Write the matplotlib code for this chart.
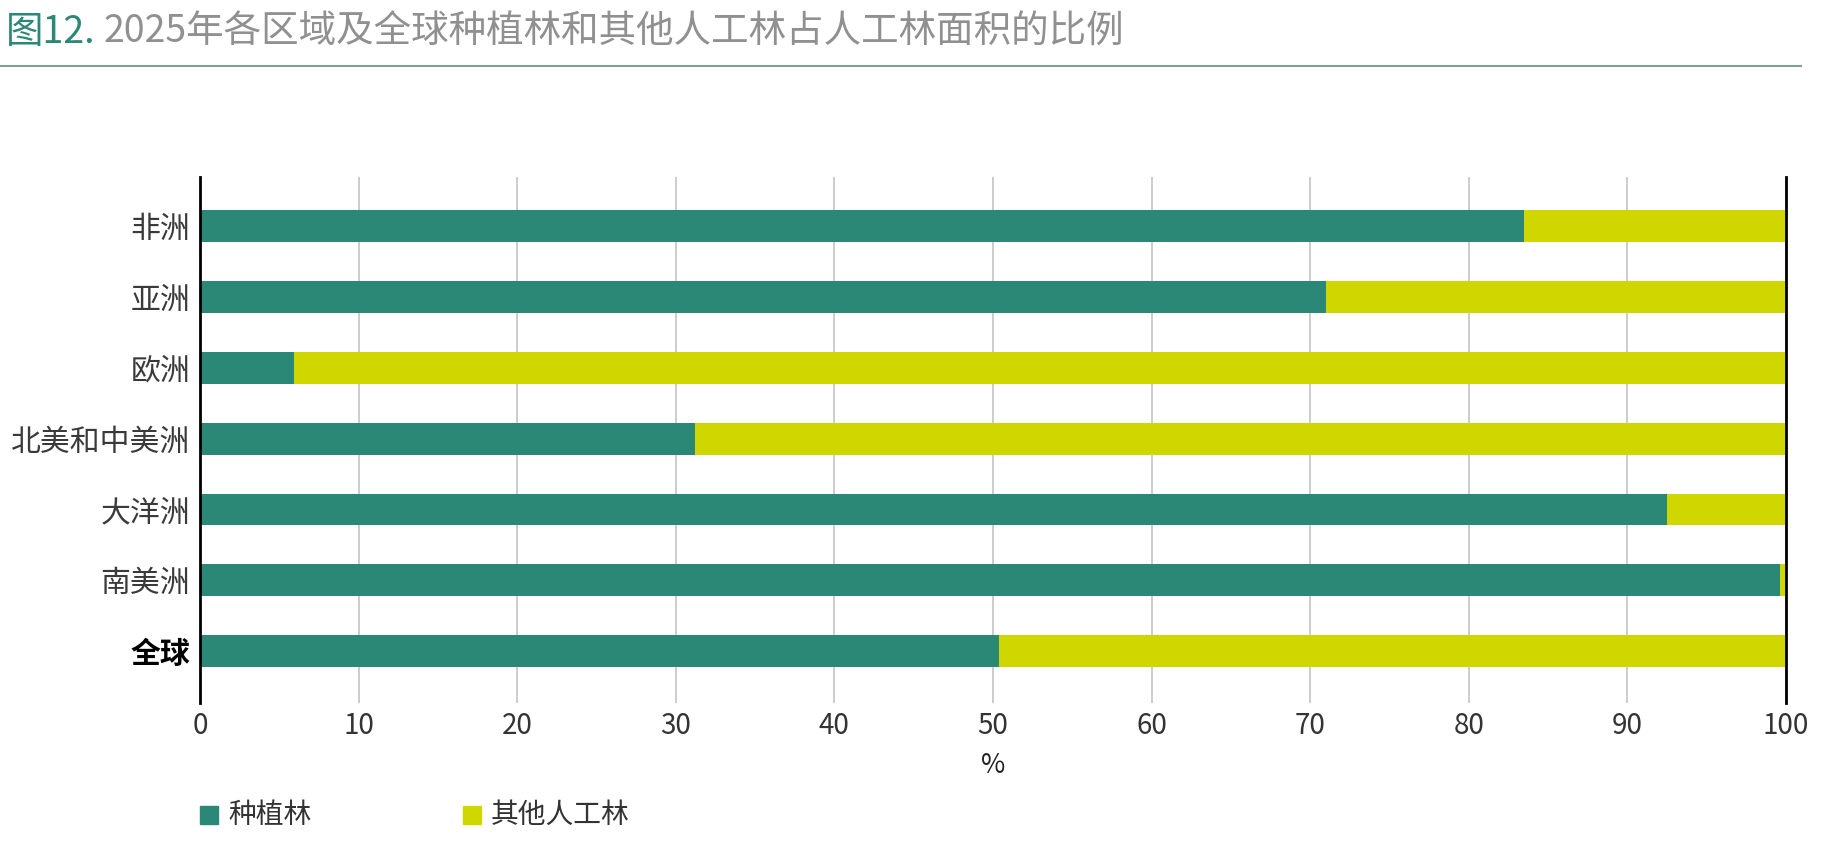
import matplotlib
matplotlib.use("Agg")
import matplotlib.pyplot as plt
from matplotlib.patches import Rectangle
from matplotlib.lines import Line2D

plt.rcParams["font.family"] = ["Noto Sans CJK SC", "DejaVu Sans"]

regiones = ["非洲", "亚洲", "欧洲", "北美和中美洲", "大洋洲", "南美洲", "全球"]
plantadas = [83.5, 71.0, 5.9, 31.2, 92.5, 99.6, 50.4]
otras = [100 - v for v in plantadas]
series = ["种植林", "其他人工林"]
xticks = [0, 10, 20, 30, 40, 50, 60, 70, 80, 90, 100]

verde = "#2b8776"
amarillo = "#d0d700"

W, H = 1828, 867
fig = plt.figure(figsize=(W / 100, H / 100), dpi=100)

ax = fig.add_axes([200 / W, 1 - 703 / H, 1586 / W, (703 - 177) / H])
y = list(range(len(regiones)))
ax.barh(y, plantadas, height=0.45, color=verde, label=series[0], zorder=3)
ax.barh(y, otras, left=plantadas, height=0.45, color=amarillo, label=series[1], zorder=3)

ax.set_xlim(0, 100)
ax.set_ylim(6.73, -0.69)
ax.set_xticks(xticks)
ax.set_yticks(y)
ax.set_yticklabels(regiones)
ax.tick_params(axis="both", length=0)
ax.tick_params(axis="x", pad=6, labelsize=20)
ax.tick_params(axis="y", pad=7, labelsize=21.5)
for lab in ax.get_xticklabels():
    lab.set_fontweight("light")
    lab.set_color("#333333")
for lab in ax.get_yticklabels():
    if lab.get_text() == "全球":
        lab.set_fontweight("semibold")
        lab.set_color("black")
    else:
        lab.set_fontweight("light")
        lab.set_color("#3a3a3a")

ax.grid(axis="x", color="#c8c8c8", linewidth=1.3, zorder=0)
for s in ["top", "bottom"]:
    ax.spines[s].set_visible(False)
for s in ["left", "right"]:
    ax.spines[s].set_color("black")
    ax.spines[s].set_linewidth(2)
    ax.spines[s].set_zorder(4)

ax.set_xlabel("%", fontsize=19, labelpad=8, color="#222222")

# leyenda manual
for x0, txt, col in [(200, series[0], verde), (463, series[1], amarillo)]:
    fig.patches.append(Rectangle((x0 / W, 1 - 824 / H), 18 / W, 18 / H,
                                 transform=fig.transFigure, color=col))
    fig.text((x0 + 28) / W, 1 - 815 / H, txt, fontsize=20, fontweight="light",
             va="center", ha="left", color="#333333")

# título
t1 = fig.text(6 / W, 1 - 32 / H, "图12.", fontsize=27, fontweight="light",
              color="#2b8776", va="center", ha="left")
fig.canvas.draw()
bb = t1.get_window_extent()
fig.text((bb.x1 + 8) / W, 1 - 32 / H, "2025年各区域及全球种植林和其他人工林占人工林面积的比例",
         fontsize=27, fontweight="light", color="#909090", va="center", ha="left")

fig.lines.append(Line2D([0, 1801 / W], [1 - 66 / H, 1 - 66 / H],
                        transform=fig.transFigure, color="#7f9f97", linewidth=1.5))

fig.savefig("out.png", dpi=100)
